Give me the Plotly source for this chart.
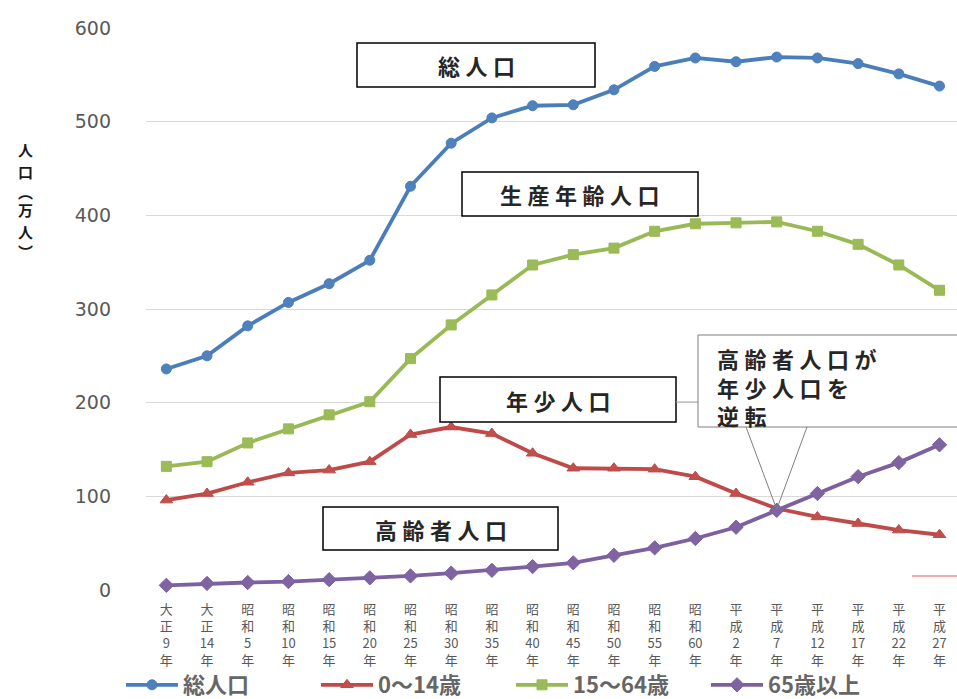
import plotly.graph_objects as go

# --- data (万人) ---
eras = ["大正", "大正", "昭和", "昭和", "昭和", "昭和", "昭和", "昭和", "昭和", "昭和",
        "昭和", "昭和", "昭和", "昭和", "平成", "平成", "平成", "平成", "平成", "平成"]
years = ["9", "14", "5", "10", "15", "20", "25", "30", "35", "40",
         "45", "50", "55", "60", "2", "7", "12", "17", "22", "27"]

total = [236, 250, 282, 307, 327, 352, 431, 477, 504, 517,
         518, 534, 559, 568, 564, 569, 568, 562, 551, 538]
age_0_14 = [96, 103, 115, 125, 128, 137, 166, 174, 167, 146,
            130, 130, 129, 121, 103, 87, 78, 71, 64, 59]
age_15_64 = [132, 137, 157, 172, 187, 201, 247, 283, 315, 347,
             358, 365, 383, 391, 392, 393, 383, 369, 347, 320]
age_65_plus = [5, 7, 8, 9, 11, 13, 15, 18, 21, 25,
               29, 37, 45, 55, 67, 85, 103, 121, 136, 155]

series_names = ["総人口", "0～14歳", "15～64歳", "65歳以上"]
y_ticks = [0, 100, 200, 300, 400, 500, 600]

tick_text = ["<br>".join(list(e) + [y, "年"]) for e, y in zip(eras, years)]
x = list(range(len(eras)))

# --- layout geometry (pixels) ---
W_FIG, H_FIG = 957, 699
L, R, T, B = 146, 0, 28, 109
PW = W_FIG - L - R
PH = H_FIG - T - B
X_SPAN = 19.93


def px(xp):
    return (xp - L) / PW


def py(yp):
    return (H_FIG - B - yp) / PH


fig = go.Figure()

styles = [
    (total, "#4A7EBB", "#4F81BD", "circle", 10),
    (age_0_14, "#BE4B48", "#C0504D", "triangle-up", 11),
    (age_15_64, "#98B954", "#9BBB59", "square", 10),
    (age_65_plus, "#7D60A0", "#8064A2", "diamond", 11),
]
for name, (vals, lc, mc, sym, ms) in zip(series_names, styles):
    fig.add_trace(go.Scatter(
        x=x, y=vals, name=name, mode="lines+markers",
        line=dict(color=lc, width=3.8),
        marker=dict(symbol=sym, size=ms, color=mc, line=dict(color=lc, width=1)),
        cliponaxis=False,
    ))

label_font = dict(family="Noto Sans CJK JP", size=22, color="#262626", weight="bold")
SP = "\u2005"


def boxed(text, x0, y0, x1, y1):
    fig.add_shape(type="rect", xref="paper", yref="paper",
                  x0=px(x0), x1=px(x1), y0=py(y1), y1=py(y0),
                  line=dict(color="#000000", width=1.5), fillcolor="white", layer="above")
    fig.add_annotation(xref="paper", yref="paper", x=px((x0 + x1) / 2), y=py((y0 + y1) / 2),
                       text=SP.join(text), showarrow=False, font=label_font,
                       xanchor="center", yanchor="middle")


boxed("総人口", 357, 43, 595, 87)
boxed("生産年齢人口", 462, 172, 698, 216)
boxed("年少人口", 440, 377, 676, 422)
boxed("高齢者人口", 323, 507, 558, 550)

# callout box pointing at the crossing of the two age groups
fig.add_shape(type="line", xref="paper", yref="paper",
              x0=px(676), x1=px(698), y0=py(402), y1=py(402),
              line=dict(color="#A6A6A6", width=1))
fig.add_shape(type="rect", xref="paper", yref="paper",
              x0=px(698), x1=px(962), y0=py(427), y1=py(335),
              line=dict(color="#7F7F7F", width=1), fillcolor="white", layer="above")
tip_x, tip_y = 15, 86
tip_px = L + (tip_x + 0.5) * PW / X_SPAN
tip_py = H_FIG - B - tip_y * PH / 600
for base in (746, 807):
    fig.add_shape(type="line", xref="paper", yref="paper", x0=px(base), y0=py(427),
                  x1=px(tip_px), y1=py(tip_py), line=dict(color="#7F7F7F", width=1))
fig.add_annotation(xref="paper", yref="paper", x=px(715), y=py(340),
                   text="<br>".join(SP.join(s) for s in ["高齢者人口が", "年少人口を", "逆転"]),
                   showarrow=False, align="left", xanchor="left", yanchor="top",
                   font=label_font)

# small patch at lower right
fig.add_shape(type="rect", xref="paper", yref="paper",
              x0=px(912), x1=px(960), y0=py(594), y1=py(577),
              line=dict(width=0), fillcolor="white", layer="above")
fig.add_shape(type="line", xref="paper", yref="paper",
              x0=px(912), x1=px(960), y0=py(576), y1=py(576),
              line=dict(color="#E06050", width=1.2), layer="above")

# y-axis title, one glyph per row (vertical writing)
title_chars = ["人", "口", "︵", "万", "人", "︶"]
title_rows = [149, 171, 191, 209, 231, 251]
for ch, yr in zip(title_chars, title_rows):
    fig.add_annotation(xref="paper", yref="paper", x=px(26), y=py(yr),
                       text=ch, showarrow=False, xanchor="center", yanchor="middle",
                       font=dict(family="Noto Sans CJK JP", size=15, color="#1a1a1a", weight=600))

fig.update_layout(
    width=W_FIG, height=H_FIG,
    margin=dict(l=L, r=R, t=T, b=B, autoexpand=False),
    plot_bgcolor="white", paper_bgcolor="white",
    showlegend=True,
    legend=dict(orientation="h", x=px(121), y=py(685), xanchor="left", yanchor="middle",
                font=dict(family="Noto Sans CJK JP", size=22, color="#666666", weight="bold"),
                itemwidth=52, entrywidth=128, bgcolor="rgba(0,0,0,0)"),
    xaxis=dict(range=[-0.5, X_SPAN - 0.5], tickmode="array", tickvals=x, ticktext=tick_text,
               showgrid=False, zeroline=False, showline=False, ticks="", automargin=False,
               ticklabelstandoff=10,
               tickfont=dict(family="Noto Sans CJK JP", size=13, color="#595959")),
    yaxis=dict(range=[0, 600], tickmode="array", tickvals=y_ticks, automargin=False,
               showgrid=True, gridcolor="#D9D9D9", gridwidth=1, zeroline=False,
               ticks="", ticklabelstandoff=34,
               tickfont=dict(family="DejaVu Sans", size=19, color="#595959")),
)

fig.write_html("out.html")
